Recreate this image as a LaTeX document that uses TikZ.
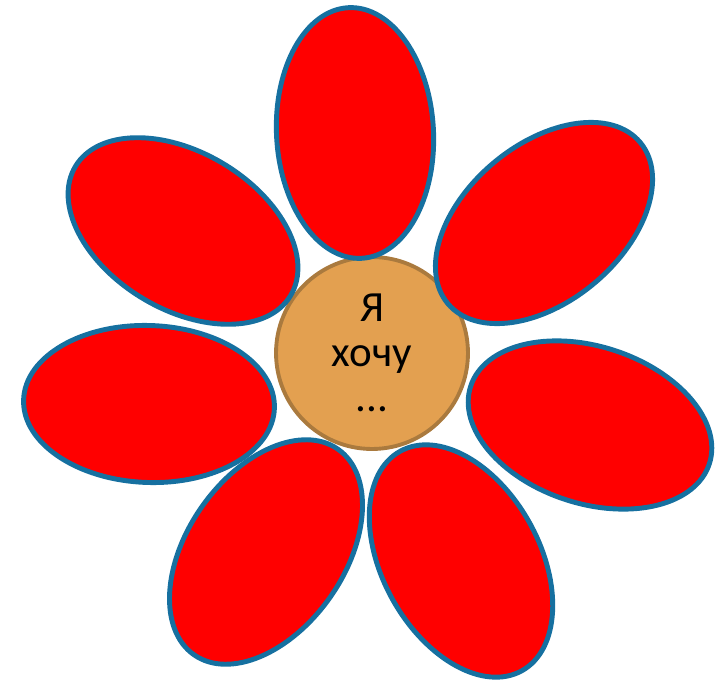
\documentclass[tikz,border=0pt]{standalone}
\usepackage{fontspec}
\setmainfont{Carlito}
\usetikzlibrary{shapes.geometric}

\definecolor{petalred}{RGB}{255,0,0}
\definecolor{petalblue}{RGB}{22,112,160}
\definecolor{coreorange}{RGB}{227,160,80}
\definecolor{corebrown}{RGB}{170,122,62}

\begin{document}
\begin{tikzpicture}[
    x=0.02cm, y=-0.02cm,
    petal/.style={ellipse, draw=petalblue, fill=petalred, line width=2.8pt, inner sep=0pt, minimum width=5.02cm, minimum height=3.14cm},
    heart/.style={circle, draw=corebrown, fill=coreorange, line width=2.2pt, inner sep=0pt, minimum size=3.84cm, align=center, font=\fontsize{24.5}{25.6}\selectfont}
]
\useasboundingbox (0,0) rectangle (719,682);

\node[heart] (core) at (372,353) {Я\\хочу\\...};

\node[petal, rotate=93] (petaltop) at (355,133) {};
\node[petal, rotate=40] (petalne) at (544,223) {};
\node[petal, rotate=-18] (petale) at (590,425) {};
\node[petal, rotate=-61] (petalse) at (461,561) {};
\node[petal, rotate=55] (petalsw) at (266,552) {};
\node[petal, rotate=-2] (petalw) at (149,404) {};
\node[petal, rotate=-31] (petalnw) at (183,231) {};
\end{tikzpicture}
\end{document}
